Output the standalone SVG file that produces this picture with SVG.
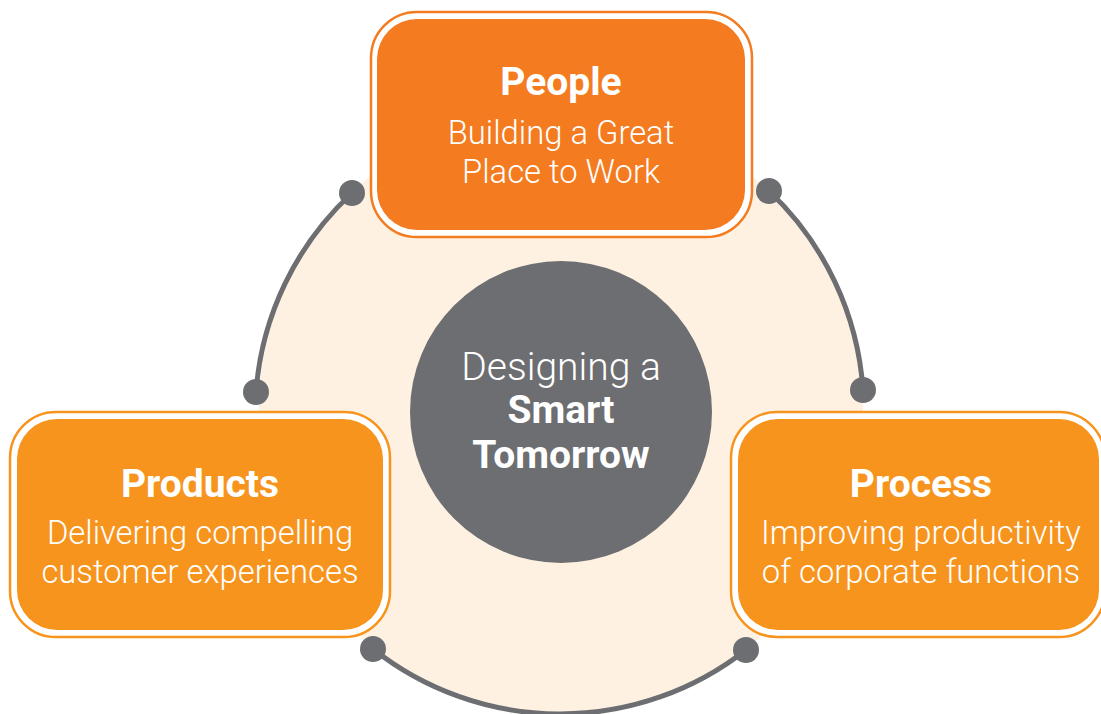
<svg xmlns="http://www.w3.org/2000/svg" width="1101" height="714" viewBox="0 0 1101 714">
<style>
.title{font-family:Roboto,"Liberation Sans",sans-serif;font-weight:700;font-size:39px;fill:#fff;text-anchor:middle}
.sub{font-family:Roboto,"Liberation Sans",sans-serif;font-weight:300;font-size:32.8px;fill:#fff;text-anchor:middle}
.ctr{font-family:Roboto,"Liberation Sans",sans-serif;font-size:39px;fill:#fff;text-anchor:middle}
.arc{fill:none;stroke:#6d6e71;stroke-width:5}
.dot{fill:#6d6e71}
.outer{fill:#fff;stroke-width:2.5}
</style>
<rect width="1101" height="714" fill="#fff"/>
<circle id="bg" cx="561" cy="410" r="302" fill="#fef1e2"/>
<g id="connectors">
<path class="arc" d="M352,193 A302,302 0 0 0 256,392"/>
<path class="arc" d="M769,191 A302,302 0 0 1 863,390"/>
<path class="arc" d="M373,649 A302,302 0 0 0 746,650"/>
<circle class="dot" cx="352" cy="193" r="13"/>
<circle class="dot" cx="256" cy="392" r="13"/>
<circle class="dot" cx="769" cy="191" r="13"/>
<circle class="dot" cx="863" cy="390" r="13"/>
<circle class="dot" cx="373" cy="649" r="13"/>
<circle class="dot" cx="746" cy="650" r="13"/>
</g>
<g id="center">
<circle cx="561" cy="412" r="151" fill="#6d6e71"/>
<text class="ctr" x="561" y="380" font-weight="300">Designing a</text>
<text class="ctr" x="561" y="423" font-weight="700">Smart</text>
<text class="ctr" x="561" y="468" font-weight="700">Tomorrow</text>
</g>
<g id="people">
<rect class="outer" x="371" y="12" width="381" height="225" rx="46" stroke="#f47b20"/>
<rect x="377" y="19" width="368" height="211" rx="40" fill="#f47b20"/>
<text class="title" x="561" y="95">People</text>
<text class="sub" x="561" y="144">Building a Great</text>
<text class="sub" x="561" y="183">Place to Work</text>
</g>
<g id="products">
<rect class="outer" x="10" y="412" width="380" height="225" rx="46" stroke="#f7941d"/>
<rect x="17" y="419" width="366" height="211" rx="40" fill="#f7941d"/>
<text class="title" x="200" y="497">Products</text>
<text class="sub" x="200" y="544">Delivering compelling</text>
<text class="sub" x="200" y="583">customer experiences</text>
</g>
<g id="process">
<rect class="outer" x="731" y="412" width="374" height="225" rx="46" stroke="#f7941d"/>
<rect x="738" y="419" width="361" height="211" rx="40" fill="#f7941d"/>
<text class="title" x="921" y="497">Process</text>
<text class="sub" x="921" y="544">Improving productivity</text>
<text class="sub" x="921" y="583">of corporate functions</text>
</g>
</svg>
